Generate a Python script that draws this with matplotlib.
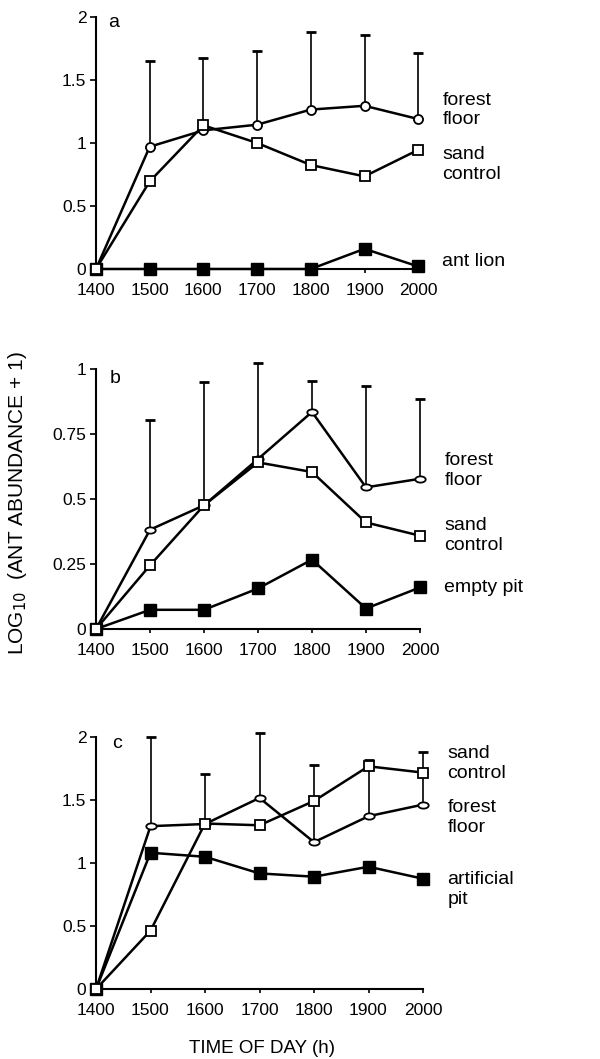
import numpy as np
import matplotlib
matplotlib.use("Agg")
import matplotlib.pyplot as plt
from matplotlib.path import Path
from matplotlib.transforms import Affine2D

plt.rcParams['font.family'] = ['Liberation Sans', 'DejaVu Sans']

hours = [1400, 1500, 1600, 1700, 1800, 1900, 2000]
xticklabels = ['1400', '1500', '1600', '1700', '1800', '1900', '2000']

# Panel a
a_forest = [0, 0.97, 1.10, 1.145, 1.265, 1.295, 1.19]
a_forest_top = [0, 1.65, 1.675, 1.73, 1.88, 1.855, 1.71]
a_sand = [0, 0.695, 1.14, 1.0, 0.825, 0.735, 0.945]
a_third = [0, 0, 0, 0, 0, 0.16, 0.02]

# Panel b
b_forest = [0, 0.382, 0.476, 0.654, 0.835, 0.545, 0.578]
b_forest_top = [0, 0.805, 0.951, 1.023, 0.954, 0.933, 0.885]
b_sand = [0, 0.245, 0.476, 0.641, 0.604, 0.41, 0.359]
b_third = [0, 0.074, 0.074, 0.156, 0.267, 0.079, 0.16]

# Panel c
c_forest = [0, 1.293, 1.31, 1.517, 1.166, 1.372, 1.464]
c_forest_top = [0, 2.0, 1.704, 2.034, 1.776, 1.815, 1.884]
c_sand = [0, 0.464, 1.314, 1.30, 1.493, 1.768, 1.718]
c_third = [0, 1.082, 1.05, 0.918, 0.892, 0.971, 0.876]

circle = Path.unit_circle()
ellipse = circle.transformed(Affine2D().scale(1.0, 0.6))

panels = [
    dict(rect=[0.16, 0.746, 0.537, 0.238], letter='a', ylim=2, yticks=[0, 0.5, 1, 1.5, 2],
         yticklabels=['0', '0.5', '1', '1.5', '2'], letter_xy=(0.037, 0.976),
         forest=a_forest, top=a_forest_top, sand=a_sand, third=a_third, fmarker='o', fsize=6.5,
         labels=[("forest\nfloor", 1.26), ("sand\ncontrol", 0.83), ("ant lion", 0.06)]),
    dict(rect=[0.16, 0.406, 0.54, 0.2455], letter='b', ylim=1, yticks=[0, 0.25, 0.5, 0.75, 1],
         yticklabels=['0', '0.25', '0.5', '0.75', '1'], letter_xy=(0.043, 0.965),
         forest=b_forest, top=b_forest_top, sand=b_sand, third=b_third, fmarker=ellipse, fsize=7.5,
         labels=[("forest\nfloor", 0.61), ("sand\ncontrol", 0.36), ("empty pit", 0.16)]),
    dict(rect=[0.16, 0.066, 0.545, 0.238], letter='c', ylim=2, yticks=[0, 0.5, 1, 1.5, 2],
         yticklabels=['0', '0.5', '1', '1.5', '2'], letter_xy=(0.049, 0.976),
         forest=c_forest, top=c_forest_top, sand=c_sand, third=c_third, fmarker=ellipse, fsize=7.5,
         labels=[("sand\ncontrol", 1.79), ("forest\nfloor", 1.36), ("artificial\npit", 0.79)]),
]

fig = plt.figure(figsize=(6.0, 10.59), dpi=100)

for p in panels:
    ax = fig.add_axes(p['rect'])
    ax.set_xlim(1400, 2000)
    ax.set_ylim(0, p['ylim'])
    for s in ['top', 'right']:
        ax.spines[s].set_visible(False)
    ax.spines['left'].set_linewidth(1.5)
    ax.spines['bottom'].set_linewidth(1.5)
    ax.set_xticks(hours)
    ax.set_xticklabels(xticklabels, fontsize=12.5)
    ax.set_yticks(p['yticks'])
    ax.set_yticklabels(p['yticklabels'], fontsize=12.5)
    ax.tick_params(axis='y', direction='out', length=4, width=1.2, pad=3)
    ax.tick_params(axis='x', direction='out', length=3, width=1.2, pad=7)

    # error bars (upper only)
    lower = np.zeros(len(hours))
    upper = np.array(p['top']) - np.array(p['forest'])
    ax.errorbar(hours[1:], p['forest'][1:], yerr=[lower[1:], upper[1:]], fmt='none',
                ecolor='black', elinewidth=1.2, capsize=3.5, capthick=2, clip_on=False, zorder=2)

    ax.plot(hours, p['third'], color='black', lw=1.8, marker='s', ms=8, mfc='black',
            mec='black', clip_on=False, zorder=3)
    ax.plot(hours, p['forest'], color='black', lw=1.8, marker=p['fmarker'], ms=p['fsize'],
            mfc='white', mec='black', mew=1.3, clip_on=False, zorder=4)
    ax.plot(hours, p['sand'], color='black', lw=1.8, marker='s', ms=7.5, mfc='white',
            mec='black', mew=1.3, clip_on=False, zorder=5)

    ax.text(p['letter_xy'][0], p['letter_xy'][1], p['letter'], transform=ax.transAxes,
            fontsize=14, va='center', ha='left')
    for txt, yv in p['labels']:
        ax.text(2045, yv, txt, fontsize=14, va='center', ha='left', linespacing=1.2,
                clip_on=False)

fig.text(0.03, 0.525, r'LOG$_{10}$  (ANT ABUNDANCE + 1)', rotation=90, fontsize=15,
         ha='center', va='center')
fig.text(0.437, 0.002, 'TIME OF DAY (h)', fontsize=13.5, ha='center', va='bottom')

fig.savefig('out.png', dpi=100)
